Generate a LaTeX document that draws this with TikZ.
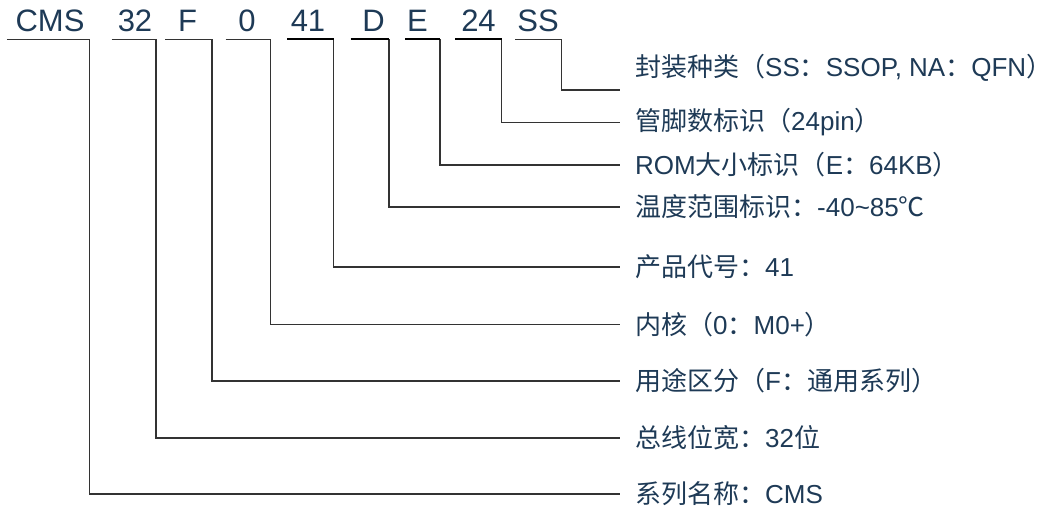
\documentclass[tikz,border=0pt]{standalone}
\usepackage{fontspec}
\setmainfont{Liberation Sans}
\newfontfamily\cjkfont{Noto Sans CJK SC}
\newcommand\zh[1]{{\cjkfont #1}}
\definecolor{txt}{HTML}{1E3A56}
\definecolor{ln}{HTML}{333333}
\begin{document}
\begin{tikzpicture}[x=1pt,y=-1pt,
  code/.style={anchor=base,inner sep=0pt,text=txt,font=\fontsize{31}{31}\selectfont},
  desc/.style={anchor=west,inner xsep=15pt,inner ysep=0pt,text=txt,font=\fontsize{26}{26}\selectfont},
  conn/.style={draw=ln,line width=1.3pt},
  ulbold/.style={draw=black,line width=2pt}]
\useasboundingbox (0,0) rectangle (1053,510);
% top code letters
\node[code] (cms) at (50,31.5) {CMS};
\node[code] (c32) at (135,31.5) {32};
\node[code] (cf) at (187.6,31.5) {F};
\node[code] (c0) at (247,31.5) {0};
\node[code] (c41) at (308,31.5) {41};
\node[code] (cd) at (373.6,31.5) {D};
\node[code] (ce) at (417.5,31.5) {E};
\node[code] (c24) at (478.5,31.5) {24};
\node[code] (css) at (538,31.5) {SS};
% right labels
\node[desc] (lss) at (620,68) {\zh{封装种类（}SS\zh{：}SSOP, NA\zh{：}QFN\zh{）}};
\node[desc] (l24) at (620,122.5) {\zh{管脚数标识（}24pin\zh{）}};
\node[desc] (le) at (620,165) {ROM\zh{大小标识（}E\zh{：}64KB\zh{）}};
\node[desc] (ld) at (620,207) {\zh{温度范围标识：}-40\textasciitilde 85\zh{℃}};
\node[desc] (l41) at (620,267) {\zh{产品代号：}41};
\node[desc] (l0) at (620,324.5) {\zh{内核（}0\zh{：}M0+\zh{）}};
\node[desc] (lf) at (620,381) {\zh{用途区分（}F\zh{：通用系列）}};
\node[desc] (l32) at (620,438) {\zh{总线位宽：}32\zh{位}};
\node[desc] (lcms) at (620,494) {\zh{系列名称：}CMS};
% underline coordinates
\coordinate (sCMS) at (6.8,39.5);  \coordinate (tCMS) at (89.6,39.5);
\coordinate (s32) at (111.6,39.5); \coordinate (t32) at (156,39.5);
\coordinate (sF) at (165,39.5);    \coordinate (tF) at (212,39.5);
\coordinate (s0) at (225.5,39.5);  \coordinate (t0) at (270.8,39.5);
\coordinate (s41) at (287.4,39.5); \coordinate (t41) at (333.5,39.5);
\coordinate (sD) at (350.6,39.5);  \coordinate (tD) at (389,39.5);
\coordinate (sE) at (405,39.5);    \coordinate (tE) at (440,39.5);
\coordinate (s24) at (455,39.5);   \coordinate (t24) at (501.7,39.5);
\coordinate (sSS) at (515,39.5);   \coordinate (tSS) at (561.7,39.5);
\coordinate (eSS) at (620,90);
% connectors
\draw[conn] (sCMS) -- (tCMS) |- (lcms.west);
\draw[conn] (s32) -- (t32) |- (l32.west);
\draw[conn] (sF) -- (tF) |- (lf.west);
\draw[conn] (s0) -- (t0) |- (l0.west);
\draw[conn] (s41) -- (t41) |- (l41.west);
\draw[conn] (sD) -- (tD) |- (ld.west);
\draw[conn] (sE) -- (tE) |- (le.west);
\draw[conn] (s24) -- (t24) |- (l24.west);
\draw[conn] (sSS) -- (tSS) |- (eSS);
\draw[ulbold] (s41) -- (t41);
\draw[ulbold] (sD) -- (tD);
\draw[ulbold] (sE) -- (tE);
\draw[ulbold] (s24) -- (t24);
\end{tikzpicture}
\end{document}
